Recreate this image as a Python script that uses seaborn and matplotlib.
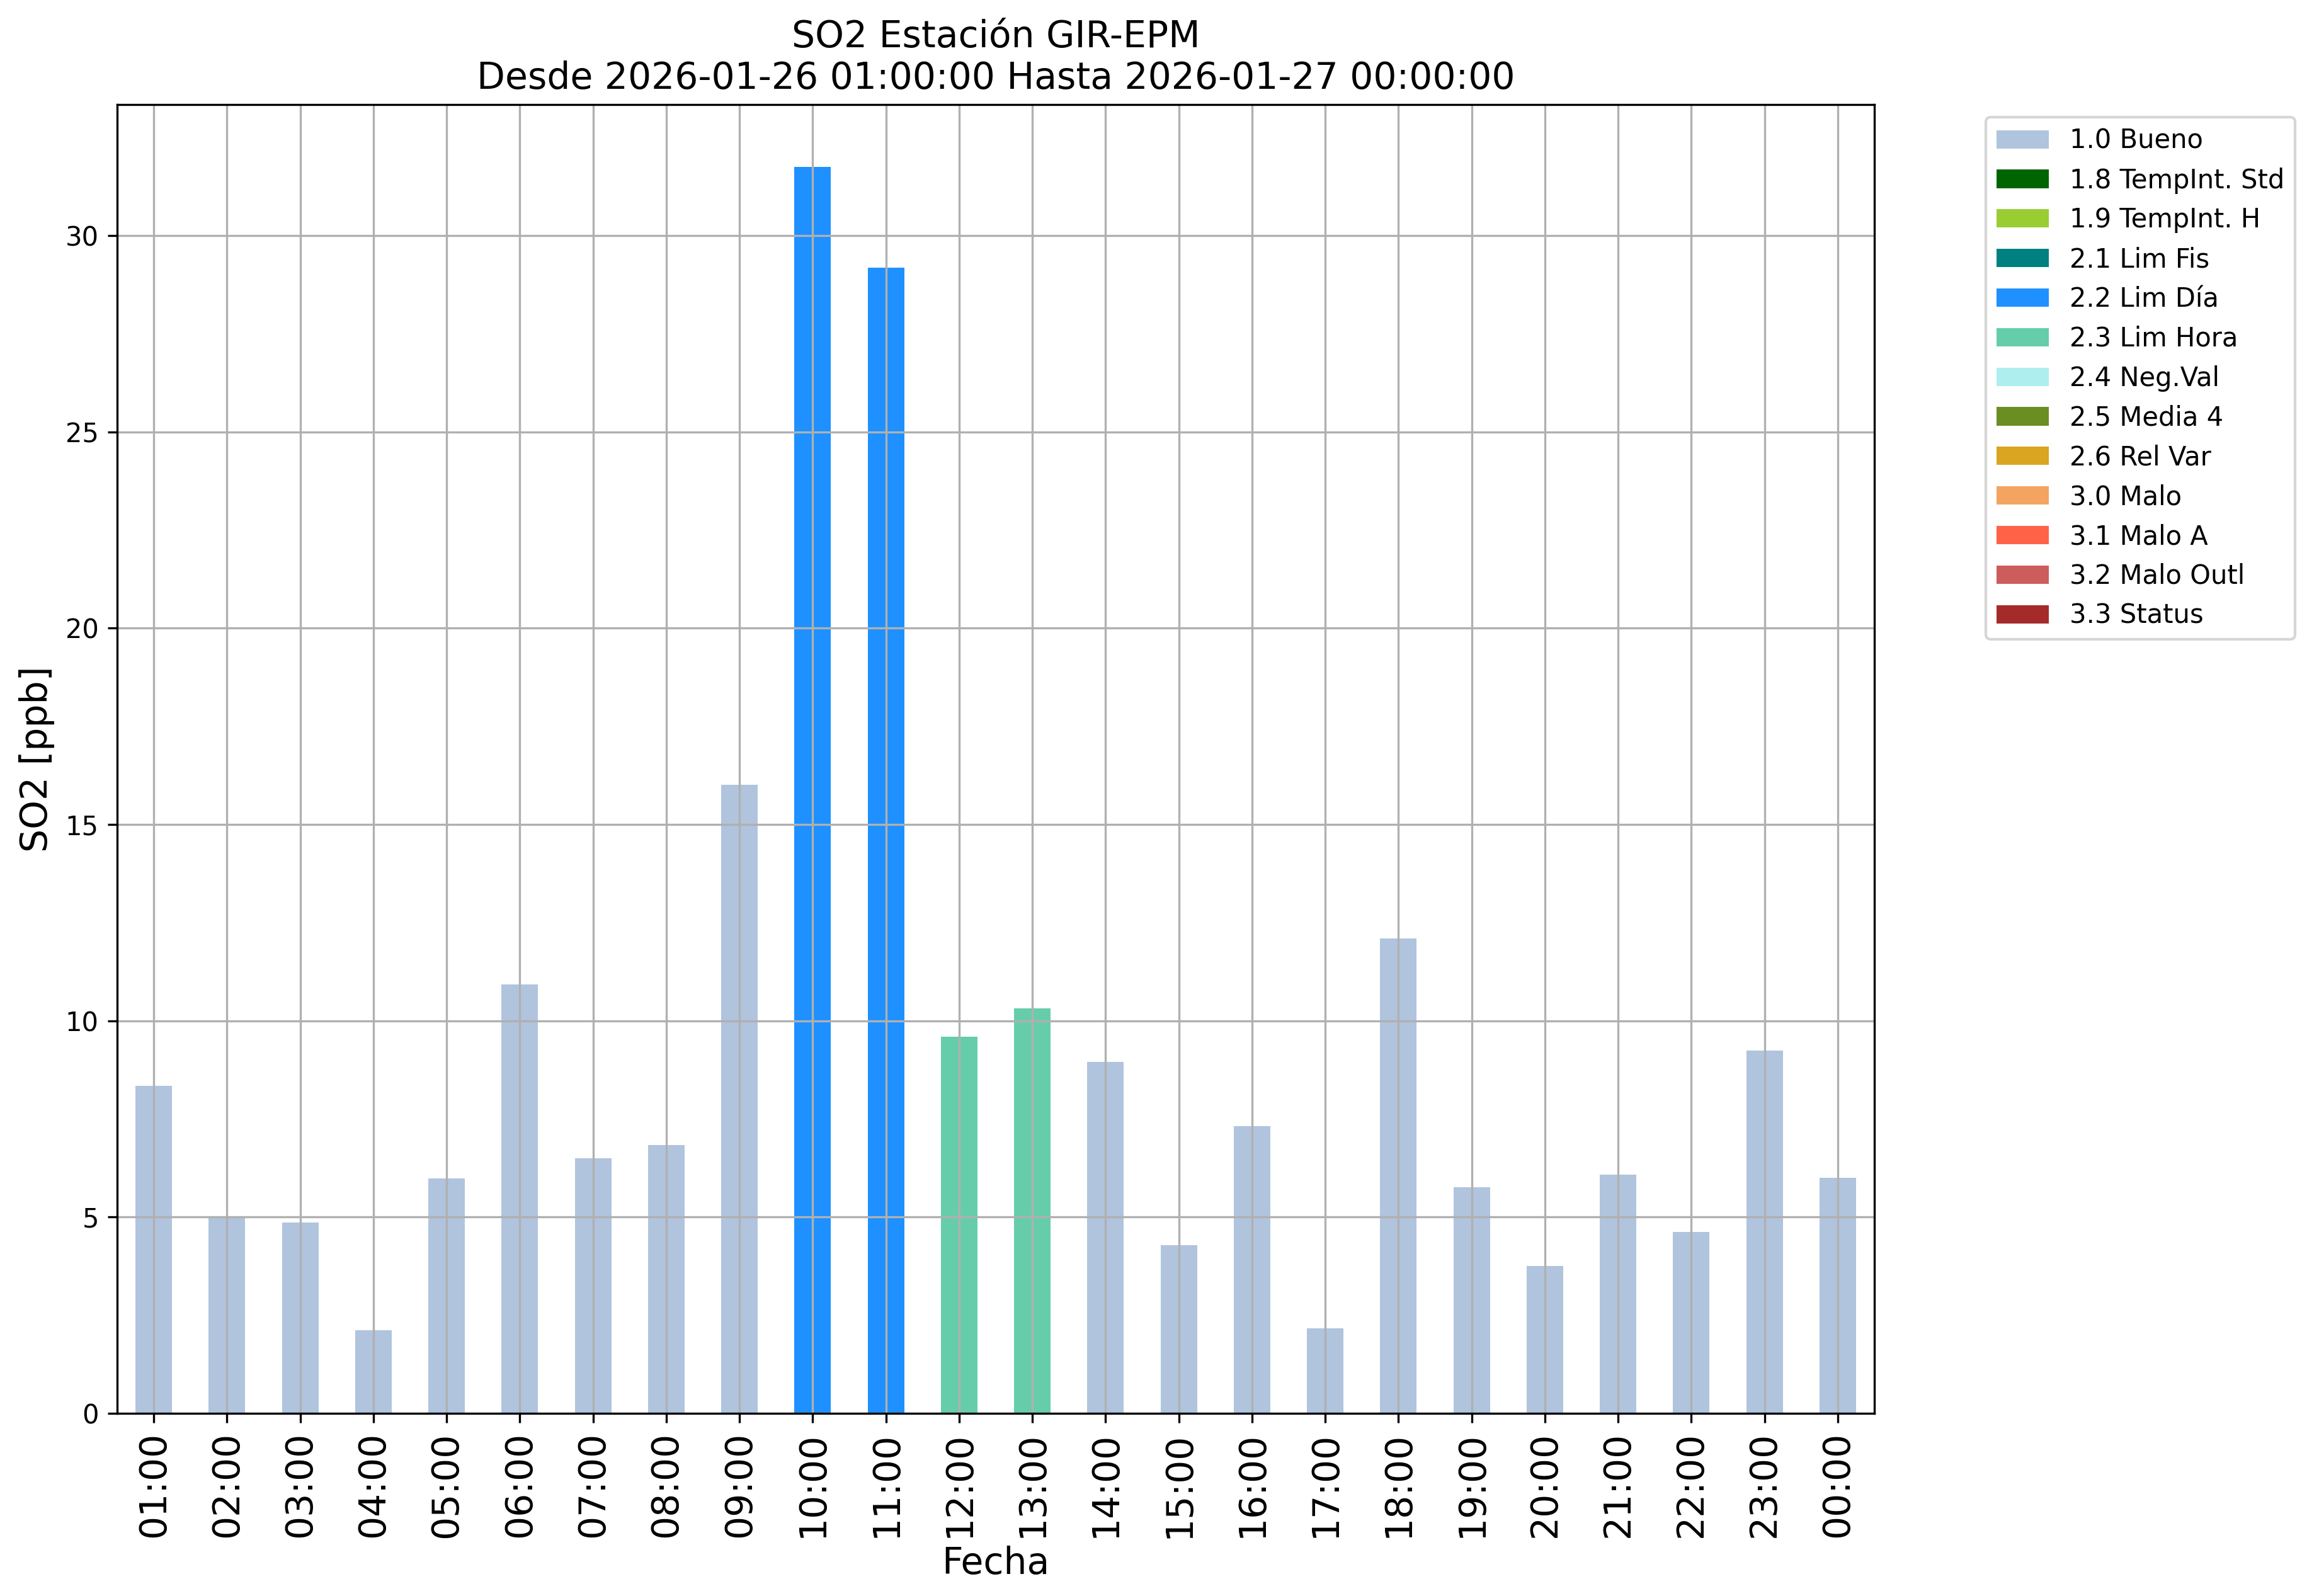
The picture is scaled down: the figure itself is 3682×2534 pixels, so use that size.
import pandas as pd
import matplotlib.pyplot as plt
from matplotlib.patches import Patch
import seaborn as sns

hours = ["01:00", "02:00", "03:00", "04:00", "05:00", "06:00", "07:00", "08:00",
         "09:00", "10:00", "11:00", "12:00", "13:00", "14:00", "15:00", "16:00",
         "17:00", "18:00", "19:00", "20:00", "21:00", "22:00", "23:00", "00:00"]
so2 = [8.34, 4.99, 4.86, 2.11, 5.98, 10.92, 6.49, 6.84, 16.01, 31.75, 29.19, 9.59,
       10.32, 8.96, 4.28, 7.31, 2.17, 12.10, 5.76, 3.76, 6.08, 4.62, 9.24, 6.00]
flags = ["1.0 Bueno"] * 9 + ["2.2 Lim Día"] * 2 + ["2.3 Lim Hora"] * 2 + ["1.0 Bueno"] * 11

flag_names = ["1.0 Bueno", "1.8 TempInt. Std", "1.9 TempInt. H", "2.1 Lim Fis",
              "2.2 Lim Día", "2.3 Lim Hora", "2.4 Neg.Val", "2.5 Media 4",
              "2.6 Rel Var", "3.0 Malo", "3.1 Malo A", "3.2 Malo Outl", "3.3 Status"]
flag_colors = ["lightsteelblue", "darkgreen", "yellowgreen", "teal", "dodgerblue",
               "mediumaquamarine", "paleturquoise", "olivedrab", "goldenrod",
               "sandybrown", "tomato", "indianred", "brown"]
palette = dict(zip(flag_names, flag_colors))

df = pd.DataFrame({"hora": hours, "so2": so2, "flag": flags})

fig, ax = plt.subplots(figsize=(3682 / 300, 2534 / 300), dpi=300)
fig.subplots_adjust(left=186 / 3682, right=2976 / 3682,
                    top=1 - 166 / 2534, bottom=1 - 2244 / 2534)

sns.barplot(data=df, x="hora", y="so2", hue="flag", order=hours,
            hue_order=flag_names, palette=palette, dodge=False, width=0.5,
            saturation=1, linewidth=0, legend=False, ax=ax)

ax.grid(True)
ax.set_xlim(-0.5, len(hours) - 0.5)
ax.tick_params(axis="x", labelrotation=90, labelsize=14)
ax.tick_params(axis="y", labelsize=10)
ax.set_xlabel("Fecha", fontsize=14, labelpad=3)
ax.set_ylabel("SO2 [ppb]", fontsize=14)
ax.set_title("SO2 Estación GIR-EPM\nDesde 2026-01-26 01:00:00 Hasta 2026-01-27 00:00:00",
             fontsize=14)

handles = [Patch(facecolor=c, label=n) for n, c in zip(flag_names, flag_colors)]
ax.legend(handles=handles, loc="upper left", fontsize=10, borderaxespad=0,
          bbox_to_anchor=(3153 / 3682, 1 - 186 / 2534), bbox_transform=fig.transFigure)

plt.savefig("out.png", dpi=300)
